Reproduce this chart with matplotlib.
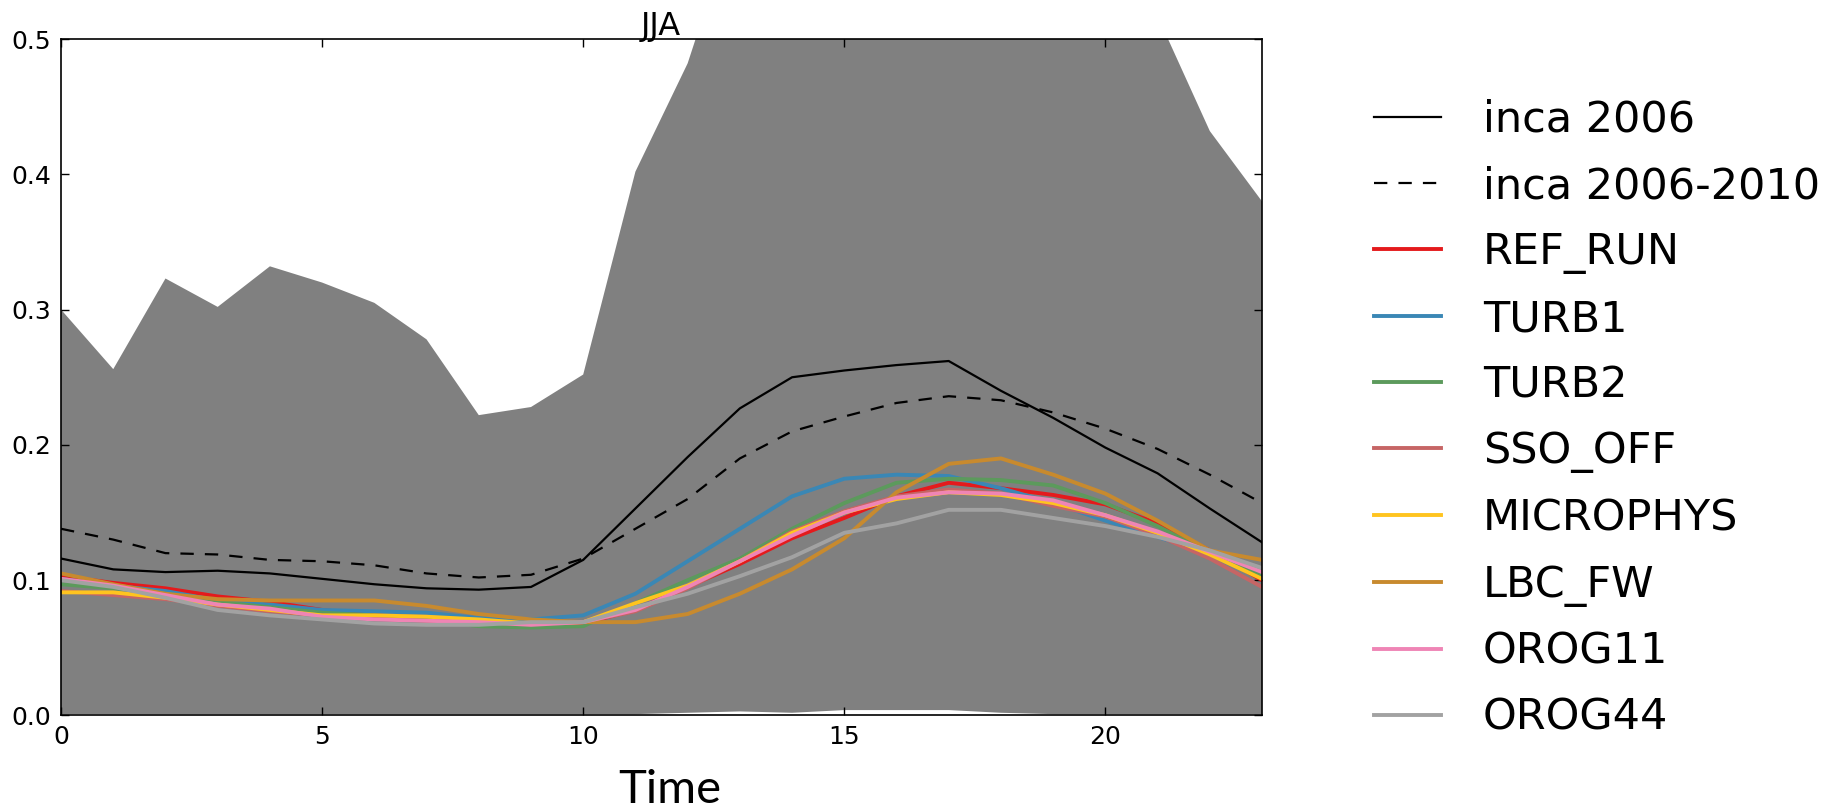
# =====================================================
# JJA diurnal cycle - inca vs. model sensitivity runs
# =====================================================
import numpy as np
import matplotlib
matplotlib.use("Agg")
import matplotlib.pyplot as plt

# =====================================================
# 1. Data
# =====================================================
hours = list(range(24))

band_upper = [0.300, 0.256, 0.323, 0.302, 0.332, 0.320, 0.305, 0.278, 0.222, 0.228,
              0.252, 0.402, 0.482, 0.600, 0.680, 0.720, 0.720, 0.700, 0.680, 0.640,
              0.580, 0.517, 0.432, 0.380]
band_lower = [0.001, 0.001, 0.001, 0.001, 0.001, 0.001, 0.001, 0.001, 0.001, 0.001,
              0.001, 0.001, 0.002, 0.003, 0.002, 0.004, 0.004, 0.004, 0.002, 0.001,
              0.001, 0.001, 0.001, 0.001]

inca_2006 = [0.116, 0.108, 0.106, 0.107, 0.105, 0.101, 0.097, 0.094, 0.093, 0.095,
             0.115, 0.153, 0.191, 0.227, 0.250, 0.255, 0.259, 0.262, 0.240, 0.220,
             0.198, 0.179, 0.153, 0.128]
inca_2006_2010 = [0.138, 0.130, 0.120, 0.119, 0.115, 0.114, 0.111, 0.105, 0.102, 0.104,
                  0.116, 0.138, 0.160, 0.190, 0.210, 0.221, 0.231, 0.236, 0.233, 0.224,
                  0.212, 0.197, 0.178, 0.157]

run_names = ["REF_RUN", "TURB1", "TURB2", "SSO_OFF", "MICROPHYS", "LBC_FW", "OROG11", "OROG44"]
run_colors = ["#e41a1c", "#3a87b5", "#5c9a5c", "#c66565", "#ffc41f", "#c88a2e", "#ef85b5", "#a2a2a2"]

ref_run = [0.103, 0.098, 0.094, 0.088, 0.084, 0.078, 0.074, 0.072, 0.070, 0.068,
           0.068, 0.078, 0.095, 0.112, 0.131, 0.146, 0.162, 0.172, 0.168, 0.163,
           0.156, 0.142, 0.122, 0.100]
turb1 = [0.101, 0.096, 0.092, 0.085, 0.082, 0.078, 0.077, 0.076, 0.072, 0.071,
         0.074, 0.090, 0.114, 0.138, 0.162, 0.175, 0.178, 0.177, 0.168, 0.157,
         0.144, 0.132, 0.119, 0.103]
turb2 = [0.097, 0.094, 0.090, 0.084, 0.080, 0.076, 0.074, 0.071, 0.066, 0.065,
         0.066, 0.083, 0.100, 0.116, 0.138, 0.157, 0.172, 0.175, 0.174, 0.170,
         0.157, 0.140, 0.120, 0.104]
sso_off = [0.092, 0.089, 0.086, 0.081, 0.077, 0.074, 0.072, 0.070, 0.069, 0.068,
           0.069, 0.077, 0.094, 0.114, 0.136, 0.151, 0.162, 0.167, 0.164, 0.155,
           0.147, 0.133, 0.116, 0.095]
microphys = [0.091, 0.091, 0.087, 0.082, 0.078, 0.074, 0.074, 0.073, 0.071, 0.068,
             0.069, 0.083, 0.096, 0.114, 0.135, 0.150, 0.160, 0.165, 0.163, 0.157,
             0.148, 0.135, 0.119, 0.101]
lbc_fw = [0.105, 0.097, 0.090, 0.086, 0.085, 0.085, 0.085, 0.081, 0.075, 0.071,
          0.069, 0.069, 0.075, 0.090, 0.108, 0.131, 0.165, 0.186, 0.190, 0.178,
          0.164, 0.144, 0.122, 0.115]
orog11 = [0.101, 0.096, 0.089, 0.082, 0.079, 0.073, 0.071, 0.070, 0.069, 0.067,
          0.069, 0.078, 0.095, 0.114, 0.133, 0.150, 0.161, 0.165, 0.164, 0.159,
          0.148, 0.136, 0.121, 0.106]
orog44 = [0.100, 0.095, 0.087, 0.078, 0.074, 0.071, 0.068, 0.067, 0.067, 0.069,
          0.069, 0.080, 0.090, 0.103, 0.117, 0.135, 0.142, 0.152, 0.152, 0.146,
          0.140, 0.132, 0.122, 0.109]
run_values = [ref_run, turb1, turb2, sso_off, microphys, lbc_fw, orog11, orog44]

# =====================================================
# 2. Figure
# =====================================================
fig = plt.figure(figsize=(18.33, 8.08), dpi=100)
ax = fig.add_axes([0.0333, 0.1145, 0.6552, 0.8372])

ax.fill_between(hours, band_lower, band_upper, color="#808080", linewidth=0)

lines = []
lines += ax.plot(hours, inca_2006, color="black", lw=1.6, label="inca 2006")
lines += ax.plot(hours, inca_2006_2010, color="black", lw=1.6, ls=(0, (6, 5)), label="inca 2006-2010")
for name, col, vals in zip(run_names, run_colors, run_values):
    lines += ax.plot(hours, vals, color=col, lw=2.8, label=name)

ax.set_xlim(0, 23)
ax.set_ylim(0, 0.5)
ax.set_xticks([0, 5, 10, 15, 20])
ax.set_yticks(np.arange(0, 0.51, 0.1))
ax.yaxis.set_major_formatter(matplotlib.ticker.FormatStrFormatter("%.1f"))
ax.tick_params(direction="in", top=True, right=True, length=6, width=1,
               labelsize=18, pad=7)
for sp in ax.spines.values():
    sp.set_linewidth(1.2)

fig.text(0.3606, 1 - 35 / 808, "JJA", ha="center", va="baseline", fontsize=23)
fig.text(0.3655, 1 - 803 / 808, "Time", ha="center", va="baseline",
         fontsize=34, family=["Lato", "DejaVu Sans"])

fig.legend(handles=lines, loc="upper left", bbox_to_anchor=(0.7496, 0.8776),
           frameon=False, fontsize=31, borderpad=0, borderaxespad=0,
           handlelength=1.55, handletextpad=0.98, labelspacing=0.56)

fig.savefig("out.png", dpi=100)
